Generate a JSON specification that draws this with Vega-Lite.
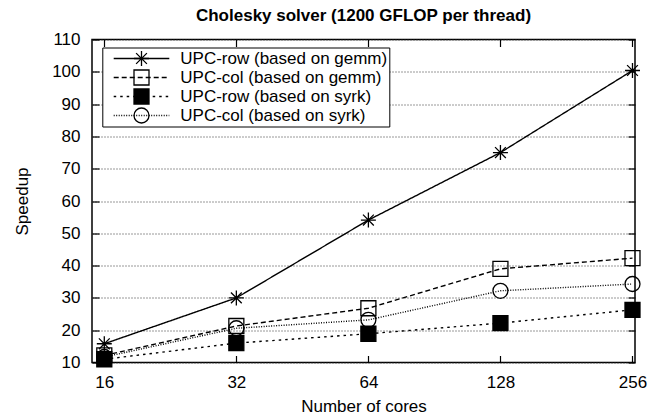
{
  "$schema": "https://vega.github.io/schema/vega-lite/v6.json",
  "autosize": "none",
  "width": 543,
  "height": 323,
  "padding": {"left": 92, "top": 39.5, "right": 23, "bottom": 57.5},
  "title": {"text": "Cholesky solver (1200 GFLOP per thread)", "font": "Liberation Sans", "fontSize": 17, "fontWeight": "bold", "color": "black", "offset": 6},
  "config": {"view": {"stroke": "black", "strokeWidth": 1.5}, "font": "Liberation Sans"},
  "data": {"values": [
    {"series": "UPC-row (based on gemm)", "cores": 16, "speedup": 15.8},
    {"series": "UPC-row (based on gemm)", "cores": 32, "speedup": 30.0},
    {"series": "UPC-row (based on gemm)", "cores": 64, "speedup": 54.1},
    {"series": "UPC-row (based on gemm)", "cores": 128, "speedup": 75.0},
    {"series": "UPC-row (based on gemm)", "cores": 256, "speedup": 100.4},
    {"series": "UPC-col (based on gemm)", "cores": 16, "speedup": 12.2},
    {"series": "UPC-col (based on gemm)", "cores": 32, "speedup": 21.3},
    {"series": "UPC-col (based on gemm)", "cores": 64, "speedup": 26.8},
    {"series": "UPC-col (based on gemm)", "cores": 128, "speedup": 39.0},
    {"series": "UPC-col (based on gemm)", "cores": 256, "speedup": 42.3},
    {"series": "UPC-row (based on syrk)", "cores": 16, "speedup": 11.0},
    {"series": "UPC-row (based on syrk)", "cores": 32, "speedup": 16.0},
    {"series": "UPC-row (based on syrk)", "cores": 64, "speedup": 18.9},
    {"series": "UPC-row (based on syrk)", "cores": 128, "speedup": 22.2},
    {"series": "UPC-row (based on syrk)", "cores": 256, "speedup": 26.3},
    {"series": "UPC-col (based on syrk)", "cores": 16, "speedup": 11.7},
    {"series": "UPC-col (based on syrk)", "cores": 32, "speedup": 20.6},
    {"series": "UPC-col (based on syrk)", "cores": 64, "speedup": 23.2},
    {"series": "UPC-col (based on syrk)", "cores": 128, "speedup": 32.2},
    {"series": "UPC-col (based on syrk)", "cores": 256, "speedup": 34.3}
  ]},
  "layer": [
    {
      "mark": {"type": "line", "color": "black", "strokeWidth": 1.4},
      "encoding": {
        "x": {"field": "cores", "type": "quantitative",
          "scale": {"type": "log", "domain": [15, 259.4], "nice": false},
          "axis": {"orient": "bottom", "values": [16, 32, 64, 128, 256], "tickSize": -7, "tickColor": "black", "tickWidth": 1.2, "domain": false, "grid": false,
            "labelFont": "Liberation Sans", "labelFontSize": 17, "labelColor": "black", "labelPadding": 19, "labelFlush": false,
            "title": "Number of cores", "titleFont": "Liberation Sans", "titleFontSize": 17, "titleFontWeight": "normal", "titleColor": "black", "titlePadding": 8}},
        "y": {"field": "speedup", "type": "quantitative",
          "scale": {"domain": [10, 110], "nice": false, "zero": false},
          "axis": {"orient": "left", "values": [10, 20, 30, 40, 50, 60, 70, 80, 90, 100, 110], "tickSize": -7, "tickColor": "black", "tickWidth": 1.2, "domain": false,
            "grid": true, "gridDash": [1, 2], "gridColor": "#333", "gridWidth": 1,
            "labelFont": "Liberation Sans", "labelFontSize": 17, "labelColor": "black", "labelPadding": 19,
            "title": "Speedup", "titleFont": "Liberation Sans", "titleFontSize": 17, "titleFontWeight": "normal", "titleColor": "black", "titlePadding": 20}},
        "strokeDash": {"field": "series", "type": "nominal",
          "sort": ["UPC-row (based on gemm)", "UPC-col (based on gemm)", "UPC-row (based on syrk)", "UPC-col (based on syrk)"],
          "scale": {"range": [[1, 0], [5, 3], [2.5, 4], [1, 1.5]]},
          "legend": {"title": null, "orient": "none", "legendX": 10.3, "legendY": 8, "padding": 2, "clipHeight": 18,
            "strokeColor": "black", "fillColor": "white",
            "symbolType": "M-3.475,0H3.475", "symbolSize": 256, "symbolStrokeColor": "black", "symbolStrokeWidth": 1.4, "symbolOffset": 28.2,
            "labelOffset": 29.8, "labelFont": "Liberation Sans", "labelFontSize": 17, "labelColor": "black", "labelLimit": 400,
            "labelExpr": "datum.label + '\u00a0\u00a0\u00a0\u00a0\u00a0\u00a0\u00a0\u00a0'", "rowPadding": 1}}
      }
    },
    {
      "mark": {"type": "point", "filled": true, "size": 225, "stroke": "black", "strokeWidth": 1.3, "opacity": 1},
      "encoding": {
        "x": {"field": "cores", "type": "quantitative",
          "axis": {"orient": "top", "values": [16, 32, 64, 128, 256], "tickSize": -7, "tickColor": "black", "tickWidth": 1.2, "domain": false, "grid": false, "labels": false, "title": null}},
        "y": {"field": "speedup", "type": "quantitative",
          "axis": {"orient": "right", "values": [10, 20, 30, 40, 50, 60, 70, 80, 90, 100, 110], "tickSize": -7, "tickColor": "black", "tickWidth": 1.2, "domain": false, "grid": false, "labels": false, "title": null}},
        "shape": {"field": "series", "type": "nominal",
          "scale": {"domain": ["UPC-row (based on gemm)", "UPC-col (based on gemm)", "UPC-row (based on syrk)", "UPC-col (based on syrk)"],
            "range": ["M-1,0H1M0,-1V1M-0.72,-0.72L0.72,0.72M-0.72,0.72L0.72,-0.72", "square", "square", "circle"]},
          "legend": {"title": null, "orient": "none", "legendX": 41, "legendY": 10, "padding": 0, "clipHeight": 18, "symbolSize": 225,
            "symbolStrokeColor": "black", "symbolStrokeWidth": 1.3, "symbolOpacity": 1, "labelExpr": "''", "labelFont": "Liberation Sans", "labelFontSize": 17, "rowPadding": 1,
            "encode": {"symbols": {"update": {"stroke": {"value": "black"}, "strokeWidth": {"value": 1.3}, "opacity": {"value": 1}}}}}},
        "fill": {"field": "series", "type": "nominal",
          "scale": {"domain": ["UPC-row (based on gemm)", "UPC-col (based on gemm)", "UPC-row (based on syrk)", "UPC-col (based on syrk)"],
            "range": ["transparent", "transparent", "black", "transparent"]},
          "legend": {"title": null, "orient": "none", "legendX": 41, "legendY": 10, "padding": 0, "clipHeight": 18, "symbolSize": 225,
            "symbolStrokeColor": "black", "symbolStrokeWidth": 1.3, "symbolOpacity": 1, "labelExpr": "''", "labelFont": "Liberation Sans", "labelFontSize": 17, "rowPadding": 1,
            "encode": {"symbols": {"update": {"stroke": {"value": "black"}, "strokeWidth": {"value": 1.3}, "opacity": {"value": 1}}}}}}
      }
    }
  ],
  "resolve": {"axis": {"x": "independent", "y": "independent"}}
}
